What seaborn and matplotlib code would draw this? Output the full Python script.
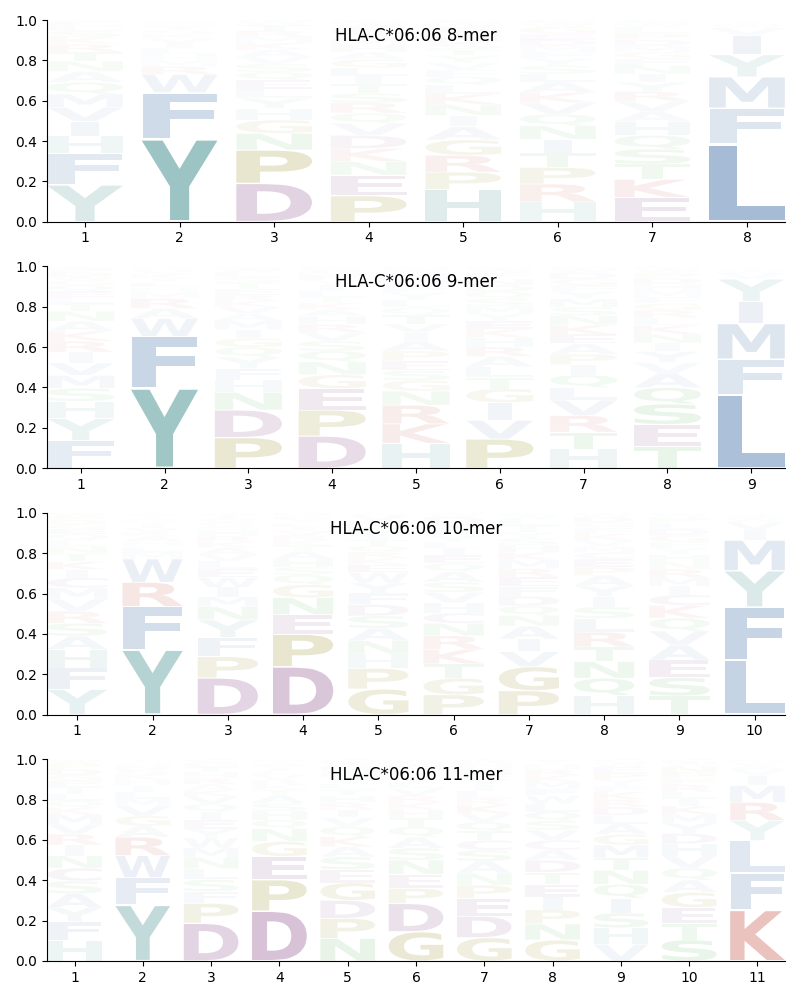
import numpy as np
import matplotlib
matplotlib.use("Agg")
import matplotlib.pyplot as plt
import seaborn as sns
from matplotlib.textpath import TextPath
from matplotlib.font_manager import FontProperties
from matplotlib.patches import PathPatch
from matplotlib.transforms import Affine2D

# letter frequencies per position, listed bottom-up
mer8 = [
    dict(Y=.183, F=.157, H=.087, I=.072, V=.07, M=.066, Q=.058, A=.055, N=.05, T=.045, R=.04, K=.035, S=.03, L=.025, E=.02, G=.01),
    dict(Y=.41, F=.23, W=.09, R=.04, M=.03, H=.03, L=.03, I=.025, V=.025, K=.02, S=.02, T=.02, Q=.015, N=.015),
    dict(D=.19, P=.165, N=.083, G=.066, H=.058, Y=.05, L=.045, E=.045, Q=.04, S=.04, V=.035, A=.035, K=.035, M=.03, R=.03, T=.03, W=.023),
    dict(P=.125, E=.10, N=.066, K=.063, D=.063, V=.058, Q=.05, R=.05, S=.045, T=.045, I=.04, L=.04, G=.04, A=.035, H=.035, M=.03, Y=.03, F=.025, W=.02, C=.015),
    dict(H=.158, P=.086, R=.083, G=.076, A=.065, I=.055, N=.055, K=.05, L=.045, Q=.04, F=.035, V=.035, Y=.035, T=.03, S=.03, D=.03, M=.025, E=.025, W=.02, C=.015),
    dict(H=.096, R=.086, P=.08, T=.07, I=.066, N=.066, Q=.055, V=.055, K=.05, A=.05, L=.04, S=.04, Y=.035, F=.03, M=.03, D=.03, E=.03, G=.03, W=.02, C=.015),
    dict(E=.117, K=.087, T=.074, S=.072, Q=.066, H=.066, A=.05, V=.05, R=.045, Y=.045, I=.04, N=.04, F=.035, G=.03, M=.03, D=.03, P=.03, L=.03, W=.02, C=.015),
    dict(L=.385, F=.178, M=.155, Y=.11, I=.095, V=.038, W=.015, A=.01, T=.007, H=.007),
]

mer9 = [
    dict(F=.139, Y=.11, H=.087, S=.065, M=.065, V=.062, I=.055, R=.055, K=.05, A=.05, N=.05, T=.04, L=.03, E=.03, Q=.03, G=.025, W=.02, D=.02, P=.02, C=.01),
    dict(Y=.40, F=.259, W=.09, A=.05, R=.05, M=.03, H=.025, L=.025, I=.02, K=.02, V=.02, S=.01, Q=.01),
    dict(P=.155, D=.14, N=.09, H=.063, F=.058, Y=.058, Q=.05, G=.045, I=.045, M=.045, A=.035, V=.035, K=.03, R=.03, E=.03, T=.03, S=.03, L=.025, W=.02, C=.01),
    dict(D=.163, P=.132, E=.11, G=.07, N=.066, Q=.055, S=.05, V=.045, R=.04, H=.04, A=.035, K=.035, T=.03, L=.03, I=.03, Y=.025, F=.025, M=.02, W=.015, C=.01),
    dict(H=.114, K=.09, R=.086, N=.065, G=.05, S=.045, E=.045, P=.045, A=.045, I=.04, V=.04, T=.04, Q=.035, L=.035, Y=.035, F=.03, D=.03, M=.03, W=.02, C=.01),
    dict(P=.139, V=.09, I=.085, G=.065, T=.055, L=.05, A=.05, R=.045, H=.045, K=.04, E=.04, Y=.035, M=.035, S=.035, Q=.035, D=.03, N=.03, F=.03, W=.02, C=.01),
    dict(H=.092, T=.08, R=.08, V=.074, L=.06, Q=.06, I=.05, P=.05, A=.05, E=.045, K=.045, N=.045, S=.04, M=.04, Y=.035, F=.03, G=.03, D=.03, W=.02, C=.01),
    dict(T=.1, E=.1, S=.094, Q=.075, A=.065, V=.05, Y=.05, I=.04, N=.04, K=.04, L=.035, R=.035, G=.03, F=.03, M=.03, H=.03, D=.025, P=.025, W=.02, C=.01),
    dict(L=.363, F=.177, M=.177, I=.11, Y=.11, V=.03, W=.015, A=.01, T=.008),
]

mer10 = [
    dict(Y=.124, F=.106, H=.091, A=.066, S=.063, R=.06, V=.06, M=.055, C=.05, I=.04, K=.04, T=.04, N=.035, L=.03, Q=.03, E=.025, G=.025, D=.02, P=.02, W=.015),
    dict(Y=.318, F=.211, R=.119, W=.115, M=.03, L=.03, H=.025, A=.025, K=.02, V=.02, I=.02, S=.015, N=.015, T=.015, Q=.01),
    dict(D=.19, P=.11, F=.10, Y=.09, N=.07, M=.05, I=.05, W=.05, E=.045, L=.04, V=.035, A=.035, K=.03, R=.03, H=.03, S=.02, Q=.02, G=.02, T=.02, C=.01),
    dict(D=.243, P=.165, E=.10, N=.086, G=.066, Q=.05, S=.04, H=.04, A=.04, T=.03, K=.025, R=.025, V=.025, I=.02, L=.02, Y=.02, F=.015, M=.015),
    dict(G=.124, P=.10, H=.07, N=.065, A=.06, S=.06, D=.055, F=.055, Y=.05, W=.05, E=.04, K=.03, R=.03, Q=.03, T=.03, I=.03, L=.03, M=.03, V=.03, C=.01),
    dict(P=.096, G=.08, T=.07, K=.07, R=.066, N=.06, C=.05, H=.05, V=.05, S=.05, A=.05, Q=.04, E=.04, I=.035, L=.03, Y=.03, F=.03, M=.03, D=.03, W=.02),
    dict(P=.112, G=.112, V=.07, I=.06, A=.06, N=.05, Q=.045, D=.045, F=.045, E=.045, R=.04, M=.04, K=.035, H=.035, S=.03, Y=.03, T=.03, L=.03, W=.02, C=.01),
    dict(H=.092, Q=.082, N=.08, T=.07, R=.07, L=.066, S=.055, I=.05, Y=.05, A=.05, P=.04, E=.04, C=.03, M=.03, V=.03, K=.03, F=.03, G=.025, D=.025, W=.02),
    dict(T=.087, S=.087, E=.083, A=.07, V=.066, Q=.06, K=.06, C=.05, I=.04, M=.04, R=.04, N=.035, H=.035, Y=.03, F=.03, G=.03, D=.03, L=.03, P=.025, W=.02),
    dict(L=.269, F=.264, Y=.18, M=.152, I=.05, V=.04, W=.02, A=.015, T=.01),
]

mer11 = [
    dict(H=.104, F=.096, Y=.071, A=.071, S=.065, C=.065, N=.063, I=.055, R=.055, V=.05, M=.05, K=.035, Q=.035, L=.035, T=.035, E=.03, G=.03, D=.03, P=.03, W=.02),
    dict(Y=.277, F=.135, W=.11, R=.091, A=.055, G=.05, V=.05, M=.035, L=.035, I=.03, H=.03, K=.025, S=.025, N=.02, Q=.015, T=.015),
    dict(D=.19, P=.10, F=.06, S=.06, L=.055, N=.055, M=.05, W=.05, Y=.045, E=.045, I=.04, Q=.04, V=.04, K=.03, A=.03, R=.03, H=.03, T=.025, G=.025, C=.015),
    dict(D=.256, P=.16, E=.12, G=.076, N=.066, Q=.045, H=.045, S=.04, A=.04, T=.03, K=.025, R=.025, V=.025, L=.02, I=.02, F=.015, Y=.015, M=.01),
    dict(N=.112, P=.10, D=.09, G=.087, E=.066, S=.063, A=.05, K=.05, Q=.05, V=.045, I=.04, R=.035, H=.035, T=.03, L=.03, Y=.03, F=.03, M=.025, W=.02, C=.015),
    dict(G=.145, D=.14, P=.075, E=.07, N=.07, S=.06, A=.055, Q=.05, T=.045, H=.04, K=.035, R=.035, V=.035, L=.03, I=.03, Y=.025, F=.025, M=.02, W=.015),
    dict(G=.117, D=.107, E=.09, P=.066, N=.06, A=.06, S=.055, C=.05, T=.045, Q=.045, V=.045, K=.04, R=.035, L=.035, I=.03, Y=.03, F=.03, M=.025, H=.025, W=.02),
    dict(G=.104, N=.08, P=.07, I=.063, E=.063, T=.06, D=.06, A=.05, C=.05, V=.05, S=.045, Q=.045, L=.04, W=.04, F=.035, M=.035, K=.03, R=.03, H=.025, Y=.025),
    dict(V=.079, H=.078, S=.07, I=.07, Q=.066, N=.066, T=.06, M=.06, G=.05, A=.05, L=.04, D=.04, R=.035, K=.035, F=.03, Y=.03, P=.03, E=.03, W=.02, C=.015),
    dict(S=.104, T=.08, E=.08, G=.074, A=.06, Q=.06, V=.06, H=.06, D=.05, Y=.05, M=.045, K=.04, I=.035, L=.035, R=.035, F=.03, P=.03, N=.03, W=.02, C=.015),
    dict(K=.252, F=.185, L=.16, Y=.10, R=.09, M=.083, I=.05, V=.03, A=.02, W=.015, H=.015),
]

titles = ["HLA-C*06:06 8-mer", "HLA-C*06:06 9-mer", "HLA-C*06:06 10-mer", "HLA-C*06:06 11-mer"]
panels = [mer8, mer9, mer10, mer11]

# colour groups
groups = {
    "AFILMVW": "#85A2C7",
    "HY": "#82B4B4",
    "DEC": "#A06FA0",
    "GP": "#A49C3D",
    "KR": "#CF7369",
    "NQST": "#66BC66",
}
colors = {}
for letters, c in groups.items():
    for ch in letters:
        colors[ch] = c

sns.set_style("ticks")
plt.rcParams["font.family"] = ["DejaVu Sans"]
plt.rcParams["text.color"] = "black"

fp = FontProperties(family="DejaVu Sans", weight="bold")
min_w = TextPath((0, 0), "L", size=1, prop=fp).get_extents().width
glyph_w = 0.8


def draw_letter(ax, ch, x, y0, h):
    tp = TextPath((0, 0), ch, size=1, prop=fp)
    bb = tp.get_extents()
    w = glyph_w * bb.width / max(bb.width, min_w)
    pad = h * 0.02
    t = (Affine2D().translate(-bb.x0, -bb.y0)
         .scale(w / bb.width, (h - 2 * pad) / bb.height)
         .translate(x - w / 2, y0 + pad))
    alpha = min(1.0, 2.4 * h ** 1.25)
    ax.add_patch(PathPatch(t.transform_path(tp), fc=colors[ch], ec="none",
                           alpha=alpha, lw=0))


fig, axes = plt.subplots(4, 1, figsize=(8, 10), dpi=100)
fig.subplots_adjust(left=0.059, right=0.981, top=0.98, bottom=0.039, hspace=0.222)

for ax, data, title in zip(axes, panels, titles):
    n = len(data)
    for i, col in enumerate(data):
        total = sum(col.values())
        items = sorted(col.items(), key=lambda kv: -kv[1])
        y = 0.0
        for ch, v in items:
            h = v / total
            draw_letter(ax, ch, i + 1, y, h)
            y += h
    ax.set_xlim(0.6, n + 0.4)
    ax.set_ylim(0, 1)
    ax.set_xticks(np.arange(1, n + 1))
    ax.set_yticks(np.arange(0, 1.01, 0.2))
    ax.set_yticklabels([f"{v:.1f}" for v in np.arange(0, 1.01, 0.2)])
    ax.tick_params(colors="black", labelsize=10)
    for s in ["left", "bottom"]:
        ax.spines[s].set_color("black")
    ax.set_title(title, y=0.855, fontsize=12, color="black")
    sns.despine(ax=ax)

fig.savefig("out.png", dpi=100)
